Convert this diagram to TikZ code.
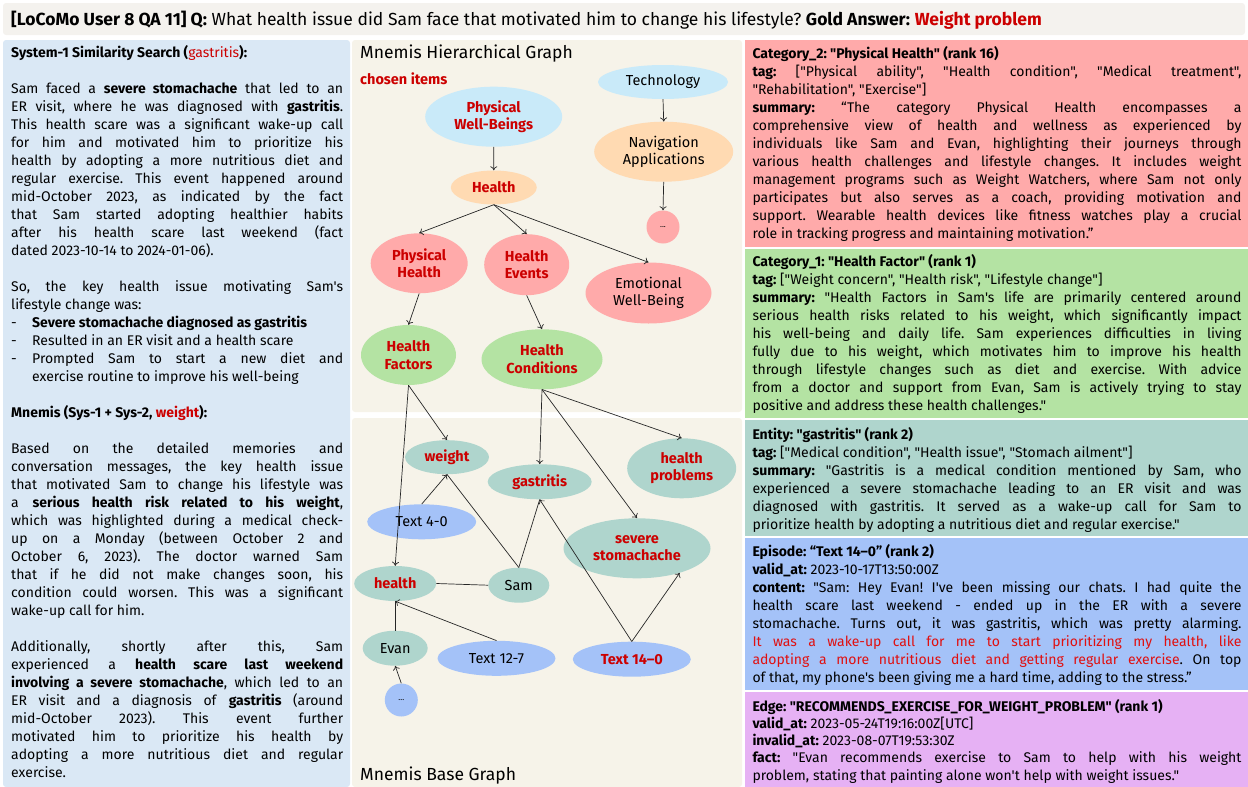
\documentclass[tikz,border=0pt]{standalone}
\usepackage{fontspec}
\setmainfont[Ligatures=TeXOff]{Fira Sans}
\usetikzlibrary{shapes.geometric,arrows.meta}
\definecolor{topbg}{HTML}{F4F2EE}
\definecolor{leftbg}{HTML}{DAE8F5}
\definecolor{midbg}{HTML}{F6F3E9}
\definecolor{pinkc}{HTML}{FFAAAA}
\definecolor{greenc}{HTML}{B4E3A3}
\definecolor{tealc}{HTML}{AFD5CD}
\definecolor{eblue}{HTML}{A4C2F8}
\definecolor{purpc}{HTML}{E6B1F4}
\definecolor{lblue}{HTML}{C9EAF9}
\definecolor{orangec}{HTML}{FFDAB2}
\definecolor{chosen}{HTML}{CC0000}
\definecolor{epired}{HTML}{E01010}
\frenchspacing
\newcommand{\mybody}{\fontsize{14}{18}\selectfont\frenchspacing\setlength{\parindent}{0pt}\hyphenpenalty=10000}
\newcommand{\mybul}[1]{\hangindent=21pt\hangafter=1\noindent\makebox[21pt][l]{-}#1\par}
\begin{document}
\begin{tikzpicture}[x=1pt,y=-1pt,
  gn/.style={ellipse, inner sep=0pt},
  nl/.style={align=center, inner sep=0pt, text=black, font=\fontsize{14.5}{17.5}\selectfont},
  cl/.style={align=center, inner sep=0pt, text=chosen, font=\fontsize{14.5}{17.5}\selectfont\bfseries},
  dl/.style={inner sep=0pt, text=black, font=\fontsize{8}{9}\selectfont},
  arr/.style={draw=black!85, line width=0.7pt, -{To[length=4pt,width=7pt]}},
  ln/.style={draw=black!85, line width=0.7pt},
  txt/.style={anchor=base west, inner sep=0pt},
]
\useasboundingbox (0,0) rectangle (1248,787);
% panels
\fill[topbg, rounded corners=3pt] (3,3) rectangle (1245,35);
\fill[leftbg, rounded corners=3pt] (3,40) rectangle (350,787);
\fill[midbg, rounded corners=3pt] (352,40) rectangle (742,412);
\fill[midbg, rounded corners=3pt] (352,418) rectangle (742,787);
\fill[pinkc] (745,40) rectangle (1248,247);
\fill[greenc] (745,249) rectangle (1248,418);
\fill[tealc] (745,420) rectangle (1248,536);
\fill[eblue] (745,538) rectangle (1248,690);
\fill[purpc] (745,692) rectangle (1248,787);

% title
\node[txt, font=\fontsize{17.5}{20}\selectfont] (title) at (11,25) {\textbf{[LoCoMo User 8 QA 11] Q:} What health issue did Sam face that motivated him to change his lifestyle? \textbf{Gold Answer:} \textbf{\textcolor{chosen}{Weight problem}}};

% left text
\node[txt] (lefttext) at (11,57.3) {\begin{minipage}[t]{332pt}\mybody
\textbf{System-1 Similarity Search (\textcolor{chosen}{\mdseries gastritis}):}\par\vspace{18pt}
Sam faced a \textbf{severe stomachache} that led to an \linebreak
ER visit, where he was diagnosed with \textbf{gastritis}. \linebreak
This health scare was a significant wake-up call \linebreak
for him and motivated him to prioritize his \linebreak
health by adopting a more nutritious diet and \linebreak
regular exercise. This event happened around \linebreak
mid-October 2023, as indicated by the fact \linebreak
that Sam started adopting healthier habits \linebreak
after his health scare last weekend (fact \linebreak
dated 2023-10-14 to 2024-01-06).\par\vspace{18pt}
So, the key health issue motivating Sam's \linebreak
lifestyle change was:\par
\mybul{\textbf{Severe stomachache diagnosed as gastritis}}
\mybul{Resulted in an ER visit and a health scare}
\mybul{Prompted Sam to start a new diet and \linebreak exercise routine to improve his well-being}
\vspace{18pt}
\textbf{Mnemis (Sys-1 + Sys-2, \textcolor{chosen}{weight}):}\par\vspace{18pt}
Based on the detailed memories and \linebreak
conversation messages, the key health issue \linebreak
that motivated Sam to change his lifestyle was \linebreak
a \textbf{serious health risk related to his weight}, \linebreak
which was highlighted during a medical check-\linebreak
up on a Monday (between October 2 and \linebreak
October 6, 2023). The doctor warned Sam \linebreak
that if he did not make changes soon, his \linebreak
condition could worsen. This was a significant \linebreak
wake-up call for him.\par\vspace{18pt}
Additionally, shortly after this, Sam \linebreak
experienced a \textbf{health scare last weekend} \linebreak
\textbf{involving a severe stomachache}, which led to an \linebreak
ER visit and a diagnosis of \textbf{gastritis} (around \linebreak
mid-October 2023). This event further \linebreak
motivated him to prioritize his health by \linebreak
adopting a more nutritious diet and regular \linebreak
exercise.
\end{minipage}};

% right texts
\node[txt] (cat2) at (752.3,58.5) {\begin{minipage}[t]{489pt}\mybody
\textbf{Category\_2: "Physical Health" (rank 16)}\par
\textbf{tag:} ["Physical ability", "Health condition", "Medical treatment", \linebreak
"Rehabilitation", "Exercise"]\par
\textbf{summary:} “The category Physical Health encompasses a \linebreak
comprehensive view of health and wellness as experienced by \linebreak
individuals like Sam and Evan, highlighting their journeys through \linebreak
various health challenges and lifestyle changes. It includes weight \linebreak
management programs such as Weight Watchers, where Sam not only \linebreak
participates but also serves as a coach, providing motivation and \linebreak
support. Wearable health devices like fitness watches play a crucial \linebreak
role in tracking progress and maintaining motivation.”
\end{minipage}};

\node[txt] (cat1) at (752.3,266.8) {\begin{minipage}[t]{489pt}\mybody
\textbf{Category\_1: "Health Factor" (rank 1)}\par
\textbf{tag:} ["Weight concern", "Health risk", "Lifestyle change"]\par
\textbf{summary:} "Health Factors in Sam's life are primarily centered around \linebreak
serious health risks related to his weight, which significantly impact \linebreak
his well-being and daily life. Sam experiences difficulties in living \linebreak
fully due to his weight, which motivates him to improve his health \linebreak
through lifestyle changes such as diet and exercise. With advice \linebreak
from a doctor and support from Evan, Sam is actively trying to stay \linebreak
positive and address these health challenges."
\end{minipage}};

\node[txt] (ent) at (752.3,439.5) {\begin{minipage}[t]{489pt}\mybody
\textbf{Entity: "gastritis" (rank 2)}\par
\textbf{tag:} ["Medical condition", "Health issue", "Stomach ailment"]\par
\textbf{summary:} "Gastritis is a medical condition mentioned by Sam, who \linebreak
experienced a severe stomachache leading to an ER visit and was \linebreak
diagnosed with gastritis. It served as a wake-up call for Sam to \linebreak
prioritize health by adopting a nutritious diet and regular exercise."
\end{minipage}};

\node[txt] (epi) at (752.3,556.2) {\begin{minipage}[t]{489pt}\mybody
\textbf{Episode: “Text 14–0” (rank 2)}\par
\textbf{valid\_at:} 2023-10-17T13:50:00Z\par
\textbf{content:} "Sam: Hey Evan! I've been missing our chats. I had quite the \linebreak
health scare last weekend - ended up in the ER with a severe \linebreak
stomachache. Turns out, it was gastritis, which was pretty alarming. \linebreak
\textcolor{epired}{It was a wake-up call for me to start prioritizing my health, like \linebreak
adopting a more nutritious diet and getting regular exercise}. On top \linebreak
of that, my phone's been giving me a hard time, adding to the stress.”
\end{minipage}};

\node[txt] (edge) at (752.3,711.2) {\begin{minipage}[t]{489pt}\mybody\fontsize{14}{17.2}\selectfont
\textbf{Edge: "RECOMMENDS\_EXERCISE\_FOR\_WEIGHT\_PROBLEM" (rank 1)}\par
\textbf{valid\_at:} 2023-05-24T19:16:00Z[UTC]\par
\textbf{invalid\_at:} 2023-08-07T19:53:30Z\par
\textbf{fact:} "Evan recommends exercise to Sam to help with his weight \linebreak
problem, stating that painting alone won't help with weight issues."
\end{minipage}};

% middle labels
\node[txt, font=\fontsize{17.5}{19}\selectfont] (hiertitle) at (360,58.5) {Mnemis Hierarchical Graph};
\node[txt, text=chosen, font=\fontsize{14.5}{16}\selectfont\bfseries] (chosenlbl) at (360,84.5) {chosen items};
\node[txt, font=\fontsize{17.5}{19}\selectfont] (basetitle) at (360,780.5) {Mnemis Base Graph};

% hierarchical nodes
\node[gn, fill=lblue, minimum width=137pt, minimum height=60pt, label={[cl]center:Physical\\Well-Beings}] (pwb) at (493.7,116.7) {};
\node[gn, fill=lblue, minimum width=130pt, minimum height=34pt, label={[nl]center:Technology}] (tech) at (663,82) {};
\node[gn, fill=orangec, minimum width=139pt, minimum height=60pt, label={[nl]center:Navigation\\Applications}] (nav) at (663.7,151.7) {};
\node[gn, fill=pinkc, minimum width=33pt, minimum height=33pt, label={[dl]center:...}] (dots1) at (663,227) {};
\node[gn, fill=orangec, minimum width=86pt, minimum height=34pt, label={[cl]center:Health}] (health) at (493.8,187.5) {};
\node[gn, fill=pinkc, minimum width=97pt, minimum height=60pt, label={[cl]center:Physical\\Health}] (ph) at (419.2,263.3) {};
\node[gn, fill=pinkc, minimum width=85pt, minimum height=61pt, label={[cl]center:Health\\Events}] (he) at (526.7,264.7) {};
\node[gn, fill=pinkc, minimum width=126pt, minimum height=61pt, label={[nl]center:Emotional\\Well-Being}] (ewb) at (648.5,293) {};
\node[gn, fill=greenc, minimum width=95pt, minimum height=60pt, label={[cl]center:Health\\Factors}] (hf) at (408.5,355) {};
\node[gn, fill=greenc, minimum width=121pt, minimum height=60pt, label={[cl]center:Health\\Conditions}] (hc) at (542,359.3) {};

% base nodes
\node[gn, fill=tealc, minimum width=84pt, minimum height=34pt, label={[cl]center:weight}] (weight) at (447,457.2) {};
\node[gn, fill=tealc, minimum width=104pt, minimum height=35pt, label={[cl]center:gastritis}] (gastritis) at (539.7,481.8) {};
\node[gn, fill=tealc, minimum width=109pt, minimum height=60pt, label={[cl]center:health\\problems}] (hprob) at (681.7,468.3) {};
\node[gn, fill=eblue, minimum width=109pt, minimum height=35pt, label={[nl]center:Text 4-0}] (t40) at (421.7,521.8) {};
\node[gn, fill=tealc, minimum width=147pt, minimum height=60pt, label={[cl]center:severe\\stomachache}] (ss) at (637,548.3) {};
\node[gn, fill=tealc, minimum width=82pt, minimum height=35pt, label={[cl]center:health}] (hlth) at (395.2,583.5) {};
\node[gn, fill=tealc, minimum width=61pt, minimum height=35pt, label={[nl]center:Sam}] (sam) at (518.8,585.2) {};
\node[gn, fill=tealc, minimum width=65pt, minimum height=35pt, label={[nl]center:Evan}] (evan) at (395.2,648.2) {};
\node[gn, fill=eblue, minimum width=118pt, minimum height=35pt, label={[nl]center:Text 12-7}] (t127) at (496.5,658.3) {};
\node[gn, fill=eblue, minimum width=118pt, minimum height=35pt, label={[cl]center:Text 14–0}] (t140) at (631.8,659.2) {};
\node[gn, fill=eblue, minimum width=33pt, minimum height=33pt, label={[dl]center:...}] (dots2) at (401.3,700) {};

% edges
\draw[arr] (pwb.south) -- (health.north);
\draw[arr] (tech.south) -- (nav.north);
\draw[arr] (nav.south) -- (dots1.north);
\draw[arr] (health.south) -- (ph.north);
\draw[arr] (health.south) -- (he.north);
\draw[arr] (health.south) -- (ewb.north);
\draw[arr] (ph.south) -- (hf.north);
\draw[arr] (he.south) -- (hc.north);
\draw[arr] (hf.south) -- (hlth.north);
\draw[arr] (hf.south) -- (weight.north);
\draw[arr] (hc.south) -- (gastritis.north);
\draw[arr] (hc.south) -- (ss.north);
\draw[arr] (hc.south) -- (hprob.north);
\draw[arr] (t40.north) -- (weight.south);
\draw[ln] (sam.north) -- (weight.south);
\draw[ln] (sam.north) -- (gastritis.south);
\draw[arr] (t140.north) -- (gastritis.south);
\draw[arr] (t140.north) -- (ss.-30);
\draw[arr] (t127.north) -- (hlth.south);
\draw[ln] (evan.north) -- (hlth.south);
\draw[ln] (hlth.east) -- (sam.west);
\draw[arr] (dots2.north) -- (evan.south);
\end{tikzpicture}
\end{document}
